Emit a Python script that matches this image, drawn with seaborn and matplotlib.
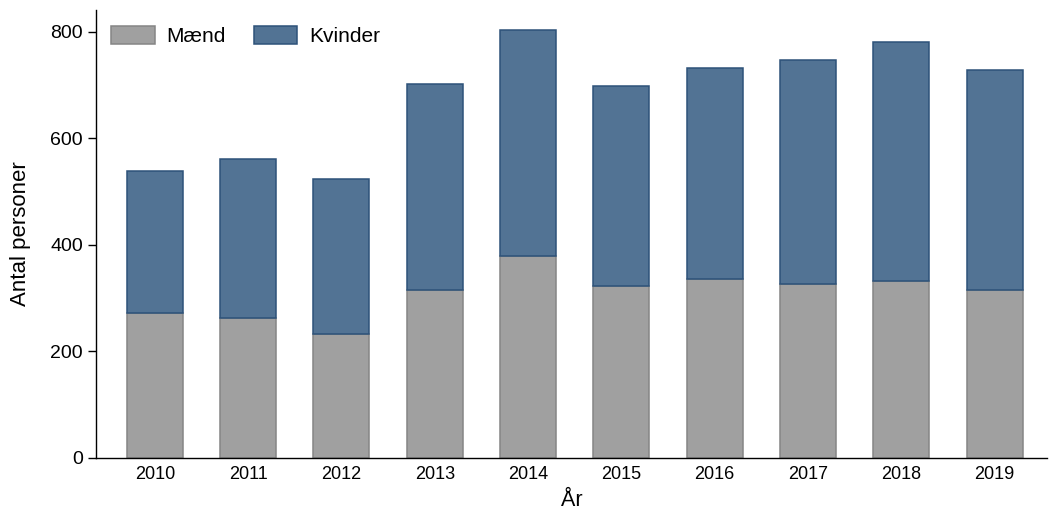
import matplotlib
matplotlib.use("Agg")
import matplotlib.pyplot as plt
import seaborn as sns
import numpy as np

years = ["2010", "2011", "2012", "2013", "2014", "2015", "2016", "2017", "2018", "2019"]
maend = [272, 263, 233, 315, 379, 323, 336, 326, 332, 315]
kvinder = [266, 297, 290, 387, 423, 374, 395, 421, 449, 412]

sns.set_style("ticks")
plt.rcParams["font.family"] = ["Liberation Sans", "DejaVu Sans"]
plt.rcParams["text.color"] = "black"
plt.rcParams["axes.labelcolor"] = "black"
plt.rcParams["xtick.color"] = "black"
plt.rcParams["ytick.color"] = "black"

fig = plt.figure(figsize=(10.49, 5.11), dpi=100)
ax = fig.add_axes([0.0915, 0.104, 0.9065, 0.876])

sns.barplot(x=years, y=maend, color="#a0a0a0", edgecolor="#858585",
            linewidth=1.1, width=0.6, saturation=1, ax=ax, label="Mænd")
sns.barplot(x=years, y=kvinder, bottom=np.array(maend), color="#527394",
            edgecolor="#2d5279", linewidth=1.1, width=0.6, saturation=1,
            ax=ax, label="Kvinder")

ax.set_xlim(-0.63, 9.56)
ax.set_ylim(0, 840)
ax.set_yticks([0, 200, 400, 600, 800])
ax.tick_params(axis="y", labelsize=14, length=6, width=1)
ax.tick_params(axis="x", labelsize=13, length=0, pad=6)
ax.set_xlabel("År", fontsize=15.5, labelpad=5)
ax.set_ylabel("Antal personer", fontsize=16, labelpad=14)
sns.despine(ax=ax)
for s in ["left", "bottom"]:
    ax.spines[s].set_color("black")
    ax.spines[s].set_linewidth(1)

ax.legend(loc="upper left", ncol=2, frameon=False, fontsize=15,
          handlelength=2.1, handleheight=0.9, columnspacing=1.35,
          handletextpad=0.55, borderaxespad=0.5, bbox_to_anchor=(-0.004, 1.006))

fig.savefig("out.png", dpi=100)
